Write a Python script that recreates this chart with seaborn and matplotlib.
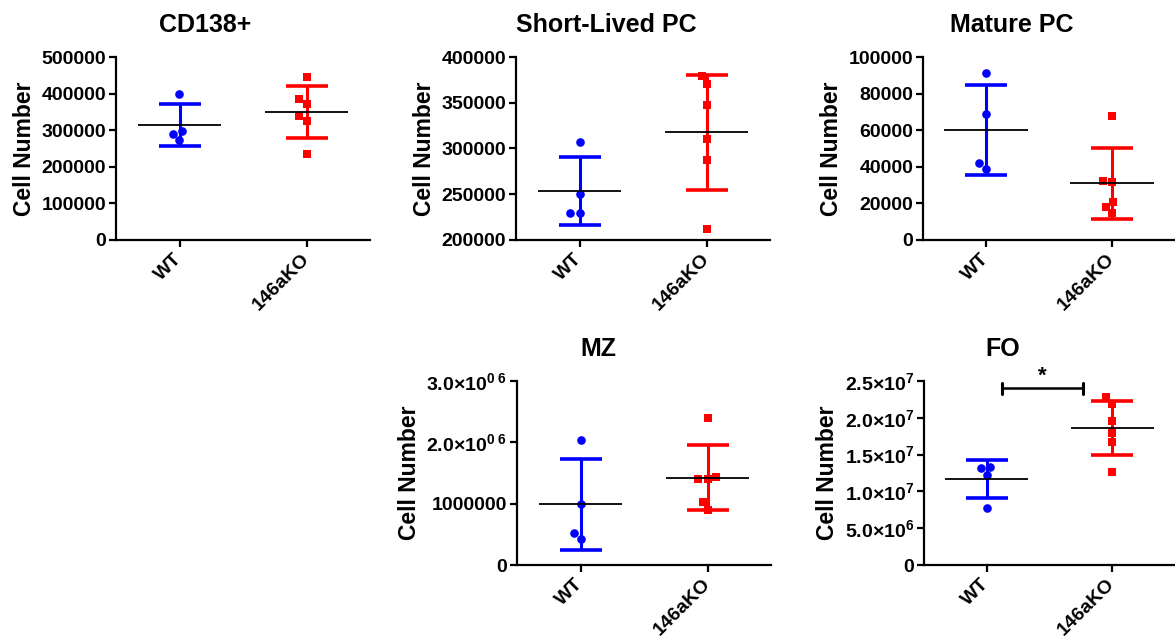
import numpy as np
import pandas as pd
import matplotlib
matplotlib.use('Agg')
import matplotlib.pyplot as plt
import seaborn as sns

# cell counts per mouse
groups = ['WT', '146aKO']

cd138_wt = [398000, 298000, 289000, 272000]
cd138_ko = [446000, 385000, 371000, 339000, 326000, 234000]

slpc_wt = [307000, 250000, 229000, 229000]
slpc_ko = [379000, 371000, 348000, 310000, 287000, 212000]

mature_wt = [91000, 69000, 42000, 39000]
mature_ko = [68000, 32500, 31500, 21000, 18000, 14500]

mz_wt = [2040000, 990000, 520000, 420000]
mz_ko = [2400000, 1430000, 1400000, 1400000, 1020000, 900000]

fo_wt = [13360000, 13200000, 12270000, 7800000]
fo_ko = [22780000, 21900000, 19500000, 18000000, 16700000, 12700000]

cd138_ticks = [0, 100000, 200000, 300000, 400000, 500000]
slpc_ticks = [200000, 250000, 300000, 350000, 400000]
mature_ticks = [0, 20000, 40000, 60000, 80000, 100000]
mz_ticks = [0, 1000000, 2000000, 3000000]
mz_tick_labels = ['0', '1000000', '2.0\u00d710$^{0\\ 6}$', '3.0\u00d710$^{0\\ 6}$']
fo_ticks = [0, 5000000, 10000000, 15000000, 20000000, 25000000]
fo_tick_labels = ['0', '5.0\u00d710$^{6}$', '1.0\u00d710$^{7}$', '1.5\u00d710$^{7}$',
                  '2.0\u00d710$^{7}$', '2.5\u00d710$^{7}$']

sns.set_theme(style='ticks')
plt.rcParams['font.family'] = ['Liberation Sans', 'DejaVu Sans']
plt.rcParams['font.weight'] = 'bold'
plt.rcParams['axes.labelweight'] = 'bold'
plt.rcParams['axes.titleweight'] = 'bold'
plt.rcParams['text.color'] = 'black'
plt.rcParams['axes.labelcolor'] = 'black'
plt.rcParams['mathtext.fontset'] = 'custom'
plt.rcParams['mathtext.rm'] = 'Liberation Sans:bold'
plt.rcParams['mathtext.it'] = 'Liberation Sans:bold'
plt.rcParams['mathtext.bf'] = 'Liberation Sans:bold'
plt.rcParams['mathtext.default'] = 'rm'

colors = {'WT': '#0000FF', '146aKO': '#FF0000'}
markers = {'WT': 'o', '146aKO': 's'}

# title, wt, ko, ticks, tick labels, axes box in px (left, bottom, w, h), title centre px
panels = [
    ('CD138+', cd138_wt, cd138_ko, cd138_ticks, None, [116, 240, 254, 183], 205),
    ('Short-Lived PC', slpc_wt, slpc_ko, slpc_ticks, None, [516, 240, 254, 183], 606),
    ('Mature PC', mature_wt, mature_ko, mature_ticks, None, [923, 240, 252, 183], 1012),
    ('MZ', mz_wt, mz_ko, mz_ticks, mz_tick_labels, [517, 565, 254, 184], 598),
    ('FO', fo_wt, fo_ko, fo_ticks, fo_tick_labels, [924, 565, 251, 184], 1003),
]

W, H = 1175, 644
fig = plt.figure(figsize=(W / 100, H / 100), dpi=100)

for title, wt, ko, ticks, tick_labels, box, title_x in panels:
    left, bottom, w, h = box
    ax = fig.add_axes([left / W, 1 - bottom / H, w / W, h / H])

    df = pd.DataFrame({
        'group': ['WT'] * len(wt) + ['146aKO'] * len(ko),
        'value': wt + ko,
    })

    # mean +/- SD per group
    stats = df.groupby('group')['value'].agg(['mean', 'std'])
    for i, g in enumerate(groups):
        m, s = stats.loc[g, 'mean'], stats.loc[g, 'std']
        ax.errorbar(i, m, yerr=s, color=colors[g], elinewidth=2.2,
                    capsize=15, capthick=2.6, zorder=2)
        ax.hlines(m, i - 0.33, i + 0.33, color='black', linewidth=1.3, zorder=4)

    for g in groups:
        sns.swarmplot(data=df[df['group'] == g], x='group', y='value', order=groups,
                      color=colors[g], marker=markers[g], size=6.2, linewidth=0,
                      ax=ax, zorder=3)

    ax.set_xlim(-0.5, 1.5)
    ax.set_ylim(ticks[0], ticks[-1])
    ax.set_yticks(ticks)
    if tick_labels is None:
        ax.set_yticklabels([str(t) for t in ticks])
    else:
        ax.set_yticklabels(tick_labels)

    ax.set_xticks([0, 1])
    ax.set_xticklabels(groups, rotation=45, ha='right', va='center',
                       rotation_mode='anchor')
    ax.set_xlabel('')
    ax.set_ylabel('Cell Number', fontsize=16.5, labelpad=4)
    ax.set_title(title, fontsize=18, pad=18, x=(title_x - left) / w)

    ax.tick_params(axis='y', labelsize=14, width=1.6, length=5, color='black', pad=2)
    ax.tick_params(axis='x', labelsize=14, width=1.6, length=5, color='black', pad=7)
    for lab in ax.get_xticklabels() + ax.get_yticklabels():
        lab.set_fontweight('bold')
        lab.set_color('black')

    sns.despine(ax=ax)
    for side in ['left', 'bottom']:
        ax.spines[side].set_linewidth(1.6)
        ax.spines[side].set_color('black')
    ax.set_facecolor('white')

    if title == 'FO':
        # significance bracket between WT and 146aKO
        y_br = 2.4e7
        ax.plot([0.12, 0.77], [y_br, y_br], color='black', lw=1.8, clip_on=False)
        for xe in [0.12, 0.77]:
            ax.plot([xe, xe], [y_br - 0.07e7, y_br + 0.07e7], color='black',
                    lw=2.2, clip_on=False)
        ax.text(0.445, y_br + 0.02e7, '*', ha='center', va='bottom',
                fontsize=16, fontweight='bold', clip_on=False)

fig.savefig('out.png', dpi=100, facecolor='white')
